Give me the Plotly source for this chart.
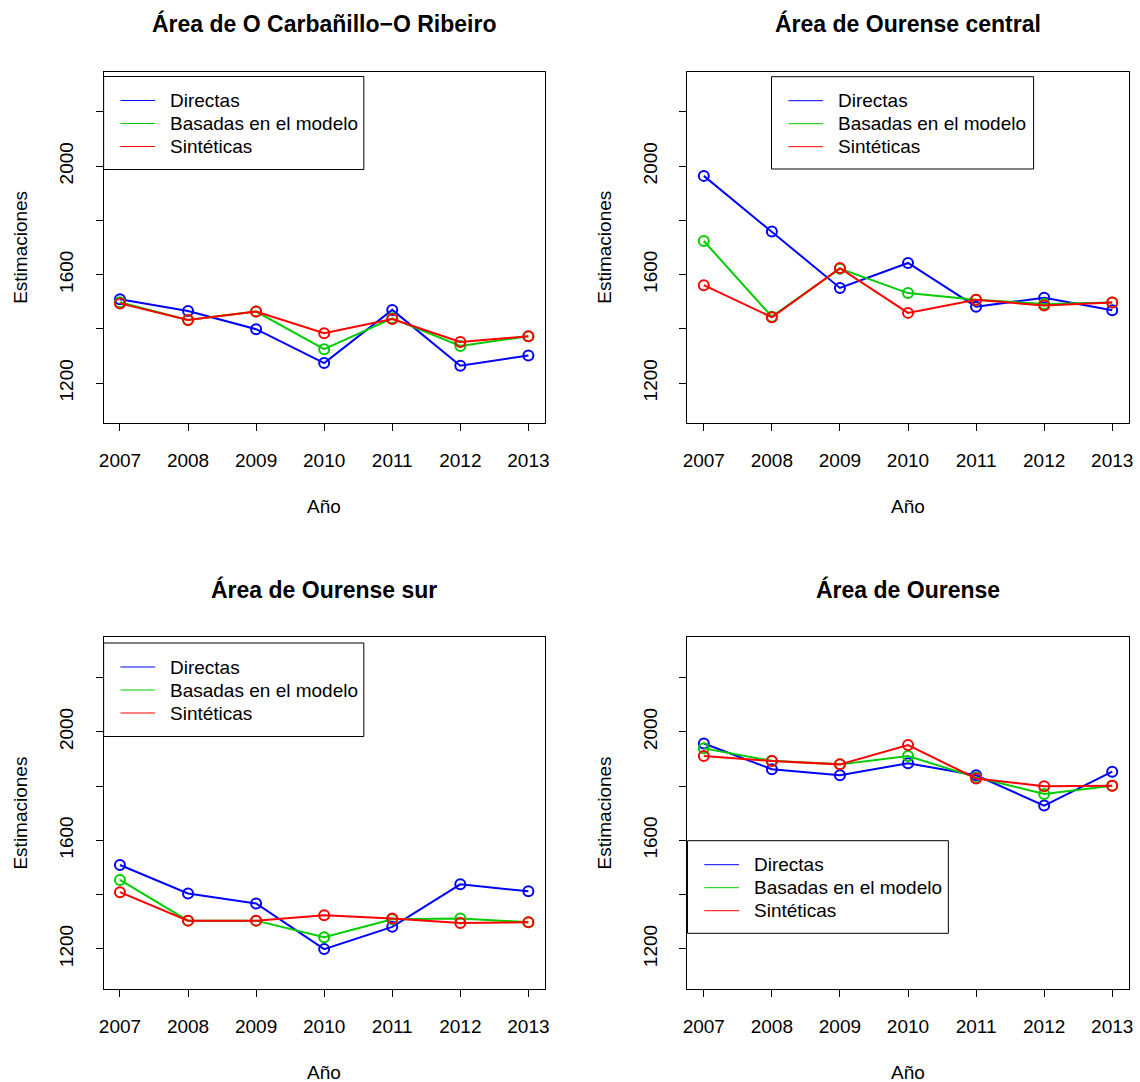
import plotly.graph_objects as go

# ---- data -------------------------------------------------------------
anios = [2007, 2008, 2009, 2010, 2011, 2012, 2013]

carb_directas = [1509, 1466, 1399, 1274, 1470, 1264, 1302]
carb_modelo = [1498, 1433, 1464, 1325, 1439, 1337, 1373]
carb_sinteticas = [1494, 1433, 1464, 1384, 1436, 1352, 1373]

central_directas = [1964, 1759, 1551, 1643, 1482, 1515, 1469]
central_modelo = [1724, 1445, 1622, 1532, 1507, 1492, 1497]
central_sinteticas = [1561, 1443, 1624, 1459, 1507, 1486, 1497]

sur_directas = [1509, 1404, 1367, 1199, 1281, 1438, 1412]
sur_modelo = [1454, 1304, 1304, 1243, 1309, 1312, 1298]
sur_sinteticas = [1409, 1304, 1304, 1324, 1312, 1295, 1298]

ourense_directas = [1957, 1862, 1840, 1884, 1840, 1728, 1853]
ourense_modelo = [1939, 1893, 1880, 1911, 1832, 1771, 1801]
ourense_sinteticas = [1911, 1892, 1880, 1951, 1828, 1799, 1801]

titulos = ["Área de O Carbañillo\u2212O Ribeiro", "Área de Ourense central",
           "Área de Ourense sur", "Área de Ourense"]
series_nombres = ["Directas", "Basadas en el modelo", "Sintéticas"]
y_ticks = [1200, 1400, 1600, 1800, 2000, 2200]
y_ticktext = ["1200", "", "1600", "", "2000", ""]

paneles = [
    (carb_directas, carb_modelo, carb_sinteticas),
    (central_directas, central_modelo, central_sinteticas),
    (sur_directas, sur_modelo, sur_sinteticas),
    (ourense_directas, ourense_modelo, ourense_sinteticas),
]

# ---- layout helpers ---------------------------------------------------
W, H = 1140, 1082
FONT = "Liberation Sans, Arial, Helvetica, sans-serif"
COLORES = ["#0000FF", "#00CD00", "#FF0000"]
FS = 19


def fx(x):
    return x / W


def fy(y):
    return 1 - y / H


# panel boxes in pixels: (left, top, right, bottom)
cajas = [
    (99.5, 71.7, 544.5, 423.3),
    (688.5, 71.7, 1133.5, 423.3),
    (99.5, 637.4, 544.5, 989.0),
    (688.5, 637.4, 1133.5, 989.0),
]

# legend boxes in pixels: (left, top, right, bottom)
leyendas = [
    (99.5, 76.5, 362.0, 169.5),
    (773.3, 76.7, 1037.7, 169.0),
    (99.5, 643.0, 362.0, 736.5),
    (688.5, 840.7, 951.7, 933.3),
]

fig = go.Figure()
shapes = []
annotations = []

for i, (caja, datos) in enumerate(zip(cajas, paneles)):
    n = i + 1
    xa = "x" if n == 1 else f"x{n}"
    ya = "y" if n == 1 else f"y{n}"
    for serie, color, nombre in zip(datos, COLORES, series_nombres):
        fig.add_trace(go.Scatter(
            x=anios, y=serie, mode="lines+markers", name=nombre,
            xaxis=xa, yaxis=ya, showlegend=False,
            line=dict(color=color, width=2),
            marker=dict(symbol="circle-open", size=10, color=color,
                        line=dict(color=color, width=2)),
        ))

    l, t, r, b = caja
    axis_common = dict(
        showline=True, linecolor="black", linewidth=1, mirror=True,
        ticks="outside", ticklen=7, tickwidth=1, tickcolor="black",
        showgrid=False, zeroline=False,
        tickfont=dict(family=FONT, size=FS, color="black"),
    )
    fig.update_layout(**{
        ("xaxis" if n == 1 else f"xaxis{n}"): dict(
            domain=[fx(l), fx(r)], range=[2006.76, 2013.24],
            anchor=ya, tickvals=anios, ticktext=[str(a) for a in anios],
            ticklabelstandoff=13, **axis_common),
        ("yaxis" if n == 1 else f"yaxis{n}"): dict(
            domain=[fy(b), fy(t)], range=[1052, 2348],
            anchor=xa, tickvals=y_ticks, ticktext=y_ticktext,
            tickangle=-90, ticklabelstandoff=15, **axis_common),
    })

    cx = (l + r) / 2
    cy = (t + b) / 2
    # panel title
    annotations.append(dict(
        x=fx(cx), y=fy(t - 48), xref="paper", yref="paper",
        text=f"<b>{titulos[i]}</b>", showarrow=False,
        xanchor="center", yanchor="middle",
        font=dict(family=FONT, size=23, color="black")))
    # x axis title
    annotations.append(dict(
        x=fx(cx), y=fy(b + 83), xref="paper", yref="paper",
        text="Año", showarrow=False, xanchor="center", yanchor="middle",
        height=20,
        font=dict(family=FONT, size=FS, color="black")))
    # y axis title
    annotations.append(dict(
        x=fx(l - 84), y=fy(cy), xref="paper", yref="paper",
        text="Estimaciones", showarrow=False, textangle=-90,
        xanchor="center", yanchor="middle",
        font=dict(family=FONT, size=FS, color="black")))

    # legend
    ll, lt, lr, lb = leyendas[i]
    shapes.append(dict(type="rect", xref="paper", yref="paper",
                       x0=fx(ll), x1=fx(lr), y0=fy(lb), y1=fy(lt),
                       line=dict(color="black", width=1),
                       fillcolor="white", layer="above"))
    for k, (color, nombre) in enumerate(zip(COLORES, series_nombres)):
        row_y = lt + 24 + k * 23
        shapes.append(dict(type="line", xref="paper", yref="paper",
                           x0=fx(ll + 17), x1=fx(ll + 52),
                           y0=fy(row_y), y1=fy(row_y),
                           line=dict(color=color, width=1), layer="above"))
        annotations.append(dict(
            x=fx(ll + 65), y=fy(row_y), xref="paper", yref="paper",
            text=nombre, showarrow=False, xanchor="left", yanchor="middle",
            font=dict(family=FONT, size=FS, color="black")))

fig.update_layout(
    width=W, height=H,
    margin=dict(l=0, r=0, t=0, b=0),
    paper_bgcolor="white", plot_bgcolor="white",
    shapes=shapes, annotations=annotations,
    showlegend=False,
)

fig.write_html("out.html")
